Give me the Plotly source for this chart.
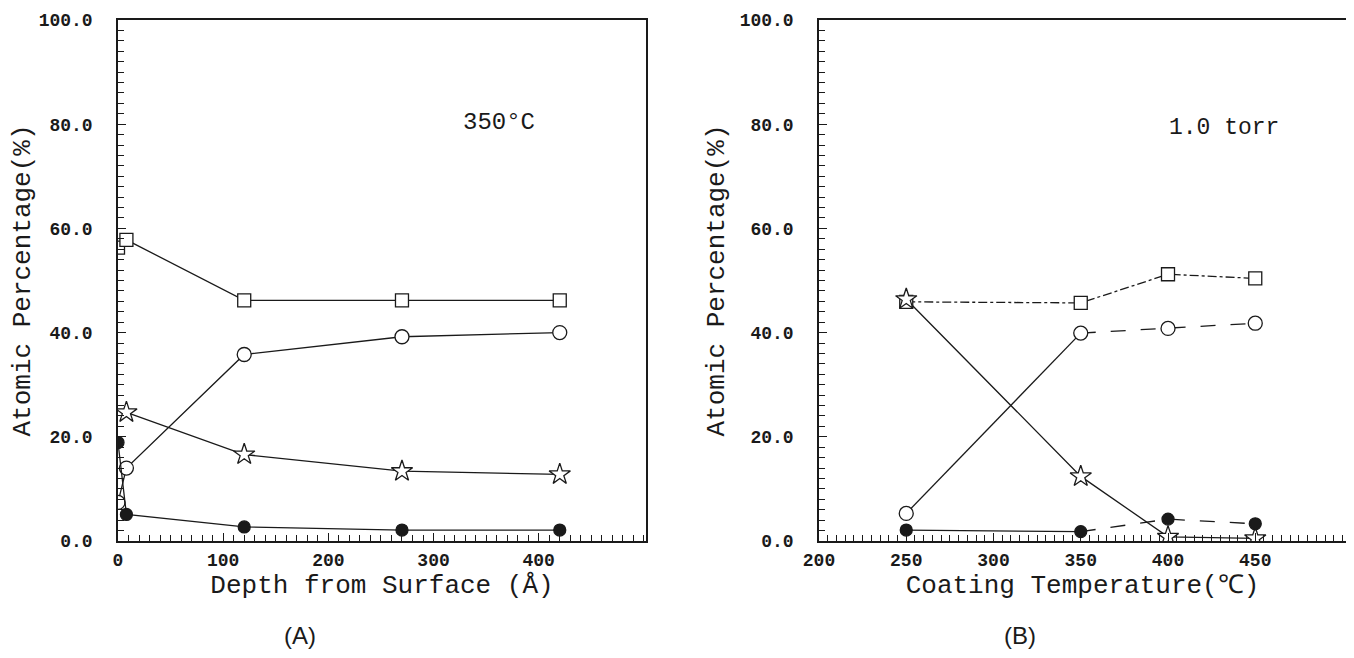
import plotly.graph_objects as go

# ---------------- data ----------------
# Panel A: depth profile at 350 C
depth_sq = [0, 8, 120, 270, 420]
sq_A = [56.3, 57.8, 46.2, 46.2, 46.2]
depth_circ = [0, 8, 120, 270, 420]
circ_A = [7.4, 14.0, 35.8, 39.2, 40.0]
depth_star = [8, 120, 270, 420]
star_A = [24.7, 16.6, 13.4, 12.8]
depth_dot = [0, 8, 120, 270, 420]
dot_A = [18.9, 5.1, 2.7, 2.1, 2.1]

# Panel B: coating temperature at 1.0 torr
temp = [250, 350, 400, 450]
sq_B = [45.9, 45.7, 51.2, 50.4]
circ_B = [5.3, 39.9, 40.8, 41.8]
star_B = [46.4, 12.4, 0.8, 0.5]
dot_B = [2.1, 1.8, 4.2, 3.3]

yticks = [0, 20, 40, 60, 80, 100]
ytick_text = ["0.0", "20.0", "40.0", "60.0", "80.0", "100.0"]
xticks_A = [0, 100, 200, 300, 400]
xticks_B = [200, 250, 300, 350, 400, 450]

MONO = "Liberation Mono"
BLACK = "#1a1a1a"
W, H, OFF = 1354, 658, 8  # page body margin offset

fig = go.Figure()


def px_x(p):
    return (p - OFF) / W


def px_y(p):
    return 1 - (p - OFF) / H


def marker_style(symbol, size, filled):
    return dict(symbol=symbol, size=size,
                color=BLACK if filled else "white",
                line=dict(color=BLACK, width=1.3))


def add_series(x, y, symbol, size, xa, ya, filled=False):
    fig.add_trace(go.Scatter(
        x=x, y=y, mode="lines+markers", xaxis=xa, yaxis=ya,
        line=dict(color=BLACK, width=1.3),
        marker=marker_style(symbol, size, filled),
        showlegend=False, hoverinfo="x+y"))


def add_line(x, y, xa, ya, dash):
    fig.add_trace(go.Scatter(
        x=x, y=y, mode="lines", xaxis=xa, yaxis=ya,
        line=dict(color=BLACK, width=1.3, dash=dash),
        showlegend=False, hoverinfo="skip"))


# Panel A
add_series(depth_sq, sq_A, "square", 13, "x", "y")
add_series(depth_circ, circ_A, "circle", 14, "x", "y")
add_series(depth_star, star_A, "star", 16, "x", "y")
add_series(depth_dot, dot_A, "circle", 12, "x", "y", filled=True)

# Panel B
add_line(temp, sq_B, "x2", "y2", "dashdot")
add_line(temp[1:], circ_B[1:], "x2", "y2", "longdash")
add_line(temp[:2], circ_B[:2], "x2", "y2", "solid")
add_line(temp, star_B, "x2", "y2", "solid")
add_line(temp[:2], dot_B[:2], "x2", "y2", "solid")
add_line(temp[1:], dot_B[1:], "x2", "y2", "longdash")
for xs, ys, sym, sz, fill in [(temp, sq_B, "square", 13, False),
                              (temp, circ_B, "circle", 14, False),
                              (temp, star_B, "star", 16, False),
                              (temp, dot_B, "circle", 12, True)]:
    fig.add_trace(go.Scatter(
        x=xs, y=ys, mode="markers", xaxis="x2", yaxis="y2",
        marker=marker_style(sym, sz, fill),
        showlegend=False, hoverinfo="x+y"))

tickfont = dict(family=MONO, size=18, color=BLACK, weight="bold")
titlefont = dict(family=MONO, size=26, color=BLACK)

common_axis = dict(showline=True, linecolor=BLACK, linewidth=1.5, mirror=True,
                   ticks="inside", ticklen=8, tickwidth=1.3, tickcolor=BLACK,
                   showgrid=False, zeroline=False, tickfont=tickfont,
                   automargin=False)

yaxis_common = dict(common_axis, range=[0, 100], tickvals=yticks,
                    ticktext=ytick_text,
                    minor=dict(dtick=2, ticks="inside", ticklen=6,
                               tickcolor=BLACK, tickwidth=1.2),
                    ticklabelstandoff=20,
                    title=dict(text="Atomic Percentage(%)", font=titlefont,
                               standoff=8))

ydom = [px_y(541), px_y(20)]

fig.update_layout(
    width=W, height=H,
    margin=dict(l=0, r=0, t=0, b=0),
    paper_bgcolor="white", plot_bgcolor="white",
    xaxis=dict(common_axis, domain=[px_x(118), px_x(646)], range=[0, 502],
               tickvals=xticks_A, anchor="y",
               minor=dict(dtick=10, ticks="inside", ticklen=6,
                          tickcolor=BLACK, tickwidth=1.2),
               ticklabelstandoff=2,
               title=dict(text="Depth from Surface (Å)", font=titlefont,
                          standoff=0)),
    yaxis=dict(yaxis_common, domain=ydom, anchor="x"),
    xaxis2=dict(common_axis, domain=[px_x(819), px_x(1346)], range=[200, 502],
                tickvals=xticks_B, anchor="y2",
                minor=dict(dtick=5, ticks="inside", ticklen=6,
                           tickcolor=BLACK, tickwidth=1.2),
                ticklabelstandoff=2,
                title=dict(text="Coating Temperature(℃)", font=titlefont,
                           standoff=0)),
    yaxis2=dict(yaxis_common, domain=ydom, anchor="x2"),
    annotations=[
        dict(text="350°C", x=362, y=80.4, xref="x", yref="y",
             showarrow=False, font=dict(family=MONO, size=24, color=BLACK)),
        dict(text="1.0 torr", x=432, y=79.3, xref="x2", yref="y2",
             showarrow=False, font=dict(family=MONO, size=23, color=BLACK)),
        dict(text="(A)", x=px_x(300), y=px_y(635), xref="paper",
             yref="paper", xanchor="center", yanchor="middle",
             showarrow=False,
             font=dict(family="Liberation Sans", size=24, color=BLACK)),
        dict(text="(B)", x=px_x(1020), y=px_y(635), xref="paper",
             yref="paper", xanchor="center", yanchor="middle",
             showarrow=False,
             font=dict(family="Liberation Sans", size=24, color=BLACK)),
    ],
)

fig.write_html("out.html")
